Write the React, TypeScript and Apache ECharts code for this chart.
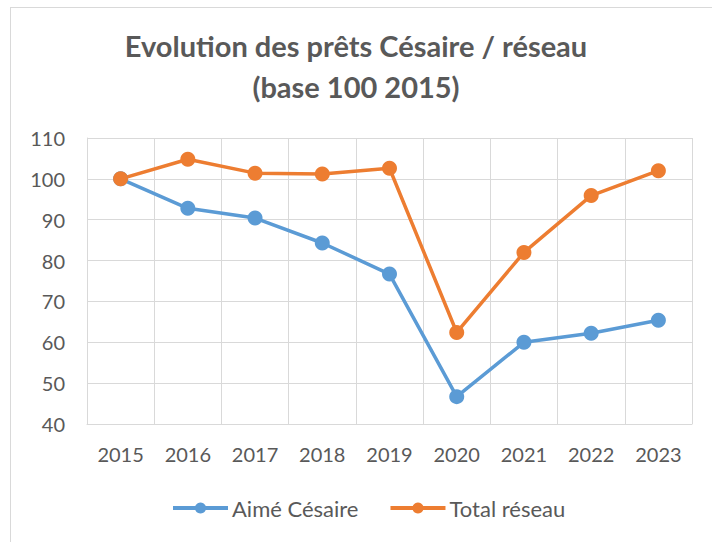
import React, { useEffect, useRef } from "react";
import * as echarts from "echarts";

const years = ["2015", "2016", "2017", "2018", "2019", "2020", "2021", "2022", "2023"];
const aimeCesaire = [100, 92.8, 90.4, 84.3, 76.7, 46.7, 60.0, 62.2, 65.4];
const totalReseau = [100, 104.8, 101.4, 101.2, 102.6, 62.4, 82.0, 95.9, 102.0];
const seriesNames = ["Aimé Césaire", "Total réseau"];
const titleLines = ["Evolution des prêts Césaire / réseau", "(base 100 2015)"];

const FONT = "Lato";
const TEXT = "#595959";
const GRID = "#d9d9d9";

export default function App() {
  const ref = useRef<HTMLDivElement>(null);
  useEffect(() => {
    if (!ref.current) return;
    const chart = echarts.init(ref.current, null, { renderer: "svg" });
    chart.setOption({
      animation: false,
      backgroundColor: "#ffffff",
      title: {
        text: titleLines.join("\n"),
        left: "center",
        top: 20,
        textStyle: {
          fontFamily: FONT,
          fontWeight: "bold",
          fontSize: 29,
          lineHeight: 41,
          color: TEXT,
        },
      },
      grid: { left: 87, right: 20, top: 138, bottom: 118 },
      legend: {
        data: seriesNames,
        bottom: 18,
        left: 166,
        itemWidth: 55,
        itemHeight: 14,
        itemGap: 30,
        lineStyle: { width: 4 },
        textStyle: { fontFamily: FONT, fontSize: 22, color: TEXT, padding: [0, 0, 0, -1] },
      },
      xAxis: {
        type: "category",
        data: years,
        boundaryGap: true,
        axisLine: { lineStyle: { color: GRID, width: 1 } },
        axisTick: { show: false },
        splitLine: { show: true, lineStyle: { color: GRID, width: 1 } },
        axisLabel: { fontFamily: FONT, fontSize: 20, color: TEXT, margin: 20, interval: 0 },
      },
      yAxis: {
        type: "value",
        min: 40,
        max: 110,
        interval: 10,
        axisLine: { show: true, lineStyle: { color: GRID, width: 1 } },
        axisTick: { show: false },
        splitLine: { show: true, lineStyle: { color: GRID, width: 1 } },
        axisLabel: { fontFamily: FONT, fontSize: 20, color: TEXT, margin: 22 },
      },
      series: [
        {
          name: seriesNames[0],
          type: "line",
          data: aimeCesaire,
          color: "#5B9BD5",
          symbol: "circle",
          symbolSize: 15,
          lineStyle: { width: 3.5, color: "#5B9BD5" },
          itemStyle: { color: "#5B9BD5" },
        },
        {
          name: seriesNames[1],
          type: "line",
          data: totalReseau,
          color: "#ED7D31",
          symbol: "circle",
          symbolSize: 15,
          lineStyle: { width: 3.5, color: "#ED7D31" },
          itemStyle: { color: "#ED7D31" },
        },
      ],
    });
    return () => chart.dispose();
  }, []);

  return (
    <div
      style={{
        position: "absolute",
        left: 0,
        top: 0,
        width: 712,
        height: 542,
        overflow: "hidden",
        background: "#fff",
      }}
    >
      <div ref={ref} style={{ position: "absolute", left: 0, top: 0, width: 712, height: 542 }} />
      <div
        style={{
          position: "absolute",
          left: 10,
          top: 7,
          width: 720,
          height: 560,
          borderLeft: "1px solid #d9d9d9",
          borderTop: "1px solid #d9d9d9",
          pointerEvents: "none",
        }}
      />
    </div>
  );
}
